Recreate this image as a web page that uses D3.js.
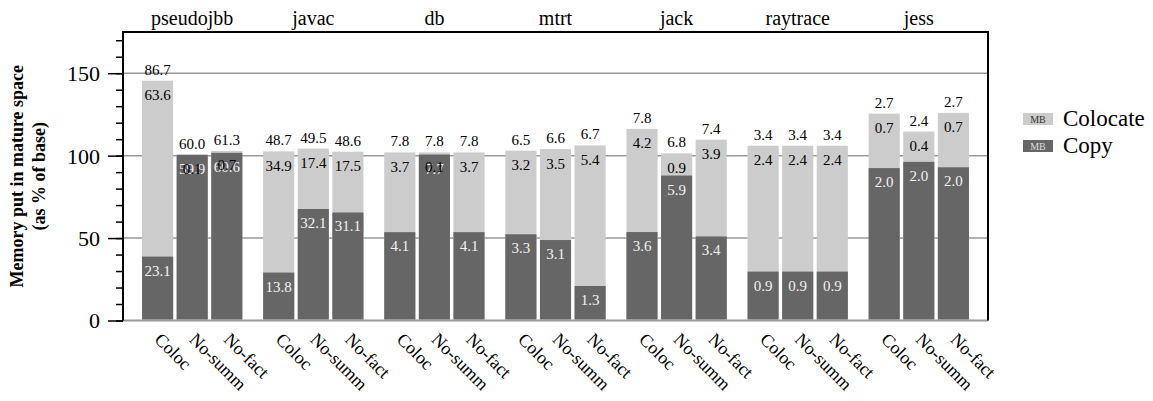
<!DOCTYPE html>
<html>
<head>
<meta charset="utf-8">
<script src="https://cdn.jsdelivr.net/npm/d3@7"></script>
<style>
  html, body { margin: 0; padding: 0; background: #fff; }
  svg { display: block; font-family: "Liberation Serif", "Times New Roman", serif; }
</style>
</head>
<body>
<svg id="chart" width="1153" height="401"></svg>
<script>
// Benchmarks and collector configurations
const benchmarks = ["pseudojbb", "javac", "db", "mtrt", "jack", "raytrace", "jess"];
const configs = ["Coloc", "No-summ", "No-fact"];

// Mature-space size of the base run for each benchmark (MB)
const baseMB = [59.6, 47.47, 7.65, 6.31, 6.71, 3.17, 2.12];

// MB copied into mature space, per benchmark x config
const copyMB = [
  [23.1, 59.9, 60.6],
  [13.8, 32.1, 31.1],
  [4.1, 7.7, 4.1],
  [3.3, 3.08, 1.32],
  [3.6, 5.9, 3.42],
  [0.94, 0.94, 0.94],
  [1.96, 2.04, 1.97]
];

// MB colocated into mature space, per benchmark x config
const colocateMB = [
  [63.6, 0.1, 0.7],
  [34.9, 17.4, 17.5],
  [3.7, 0.1, 3.7],
  [3.2, 3.48, 5.38],
  [4.2, 0.9, 3.94],
  [2.42, 2.42, 2.42],
  [0.70, 0.39, 0.70]
];

const seriesNames = ["Colocate", "Copy"];
const majorTicks = [0, 50, 100, 150];

const colors = { Colocate: "#cccccc", Copy: "#666666" };

const svg = d3.select("#chart");
const plot = { left: 123, right: 988, top: 32, bottom: 320.5 };

// one slot per bar, groups of three separated by half a slot
const x = d3.scaleLinear().domain([0, 25]).range([plot.left, plot.right]);
const y = d3.scaleLinear().domain([0, 175]).range([plot.bottom, plot.top]);
const slot = (g, b) => 1 + g * 3.5 + b;
const barW = x(0.9) - x(0);

const rows = [];
benchmarks.forEach((bm, g) => {
  configs.forEach((cfg, b) => {
    const copy = copyMB[g][b], col = colocateMB[g][b];
    rows.push({
      bm, cfg, g, b, copy, col,
      total: copy + col,
      copyPct: copy / baseMB[g] * 100,
      totalPct: (copy + col) / baseMB[g] * 100
    });
  });
});

const fmt = d3.format(".1f");

// gridlines
svg.append("g").selectAll("line").data(majorTicks).join("line")
  .attr("x1", plot.left).attr("x2", plot.right)
  .attr("y1", d => y(d)).attr("y2", d => y(d))
  .attr("stroke", "#999").attr("stroke-width", d => d === 0 ? 2 : 1.5);

// bars
const bars = svg.append("g");
bars.selectAll("rect.col").data(rows).join("rect")
  .attr("class", "col")
  .attr("x", d => x(slot(d.g, d.b)) - barW / 2)
  .attr("width", barW)
  .attr("y", d => y(d.totalPct))
  .attr("height", d => y(0) - y(d.totalPct) - 1)
  .attr("fill", colors.Colocate);
bars.selectAll("rect.copy").data(rows).join("rect")
  .attr("class", "copy")
  .attr("x", d => x(slot(d.g, d.b)) - barW / 2)
  .attr("width", barW)
  .attr("y", d => y(d.copyPct))
  .attr("height", d => y(0) - y(d.copyPct) - 1)
  .attr("fill", colors.Copy);

// frame: left, top, right
svg.append("path")
  .attr("d", `M${plot.left},${plot.bottom}V${plot.top}H${plot.right}V${plot.bottom}`)
  .attr("fill", "none").attr("stroke", "#000").attr("stroke-width", 2);

// y axis: long ticks with labels at multiples of 50, short ticks every 10
const yAxisMajor = d3.axisLeft(y).tickValues(majorTicks).tickSize(15).tickPadding(8)
  .tickFormat(d3.format("d"));
const yAxisMinor = d3.axisLeft(y).tickValues(d3.range(0, 171, 10)).tickSize(7).tickFormat("");
const gMinor = svg.append("g").attr("transform", `translate(${plot.left},0)`).call(yAxisMinor);
const gMajor = svg.append("g").attr("transform", `translate(${plot.left},0)`).call(yAxisMajor);
[gMinor, gMajor].forEach(g => {
  g.attr("font-family", null);
  g.select(".domain").remove();
  g.selectAll("line").attr("stroke", "#000").attr("stroke-width", 1.5);
});
gMajor.selectAll("text")
  .attr("font-size", 22).attr("fill", "#000")
  .attr("dy", "0.34em");

// y axis title
const title = svg.append("text")
  .attr("transform", `translate(0,${(plot.top + plot.bottom) / 2}) rotate(-90)`)
  .attr("text-anchor", "middle").attr("font-weight", "bold").attr("font-size", 18);
title.append("tspan").attr("x", 0).attr("y", 23).text("Memory put in mature space");
title.append("tspan").attr("x", 0).attr("y", 45).text("(as % of base)");

// benchmark names above the frame
svg.append("g").selectAll("text").data(benchmarks).join("text")
  .attr("x", (d, g) => x(slot(g, 1)))
  .attr("y", 25)
  .attr("text-anchor", "middle").attr("font-size", 20)
  .text(d => d);

// configuration labels under each bar
svg.append("g").selectAll("text").data(rows).join("text")
  .attr("transform", d => `translate(${x(slot(d.g, d.b)) - 4},${plot.bottom + 20}) rotate(45)`)
  .attr("font-size", 18)
  .text(d => d.cfg);

// value labels (MB)
const labels = svg.append("g").attr("font-size", 15).attr("text-anchor", "middle");
labels.selectAll("text.tot").data(rows).join("text")
  .attr("class", "tot")
  .attr("x", d => x(slot(d.g, d.b)))
  .attr("y", d => y(d.totalPct) - 6)
  .attr("fill", "#000")
  .text(d => fmt(d.total));
labels.selectAll("text.cpy").data(rows).join("text")
  .attr("class", "cpy")
  .attr("x", d => x(slot(d.g, d.b)))
  .attr("y", d => y(d.copyPct) + 19)
  .attr("fill", "#f2f2f2")
  .text(d => fmt(d.copy));
labels.selectAll("text.colv").data(rows).join("text")
  .attr("class", "colv")
  .attr("x", d => x(slot(d.g, d.b)))
  .attr("y", d => y(d.totalPct) + 19.5)
  .attr("fill", "#000")
  .text(d => fmt(d.col));

// legend
const legend = svg.append("g").attr("transform", "translate(1023,113)");
const items = legend.selectAll("g").data(seriesNames).join("g")
  .attr("transform", (d, i) => `translate(0,${i * 27})`);
items.append("rect").attr("width", 30).attr("height", 12)
  .attr("fill", d => colors[d]);
items.append("text").attr("x", 15).attr("y", 10).attr("text-anchor", "middle")
  .attr("font-size", 10).attr("fill", d => d === "Copy" ? "#dddddd" : "#333")
  .text("MB");
items.append("text").attr("x", 40).attr("y", 13).attr("font-size", 23)
  .text(d => d);
</script>
</body>
</html>
